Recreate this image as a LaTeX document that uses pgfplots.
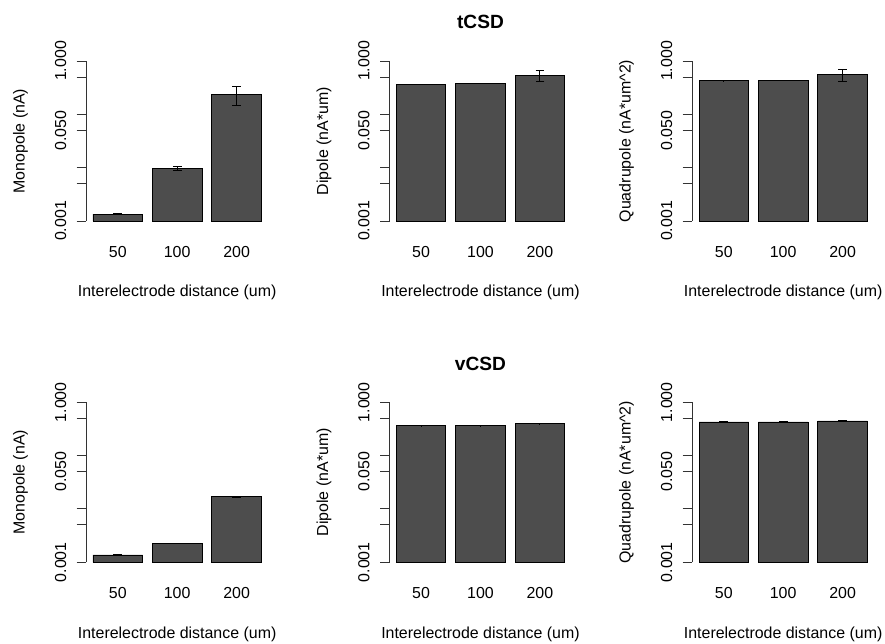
\documentclass[border=0pt]{standalone}
\usepackage{fontspec}
\setmainfont{Liberation Sans}
\usepackage{pgfplots}
\pgfplotsset{compat=1.18}
\definecolor{barfill}{HTML}{4D4D4D}
\pgfplotsset{
  every axis/.append style={
    scale only axis, width=136.35bp, height=120bp,
    xmin=0.064, xmax=3.736, ymin=0.001, ymax=1, log origin=infty,
    axis y line*=left, axis x line*=bottom,
    x axis line style={draw=none}, y axis line style={black!80, line width=0.75bp},
    xtick={0.7,1.9,3.1}, xticklabels={50,100,200},
    xtick style={draw=none},
    ytick={0.001,0.005,0.01,0.05,0.1,0.5,1},
    yticklabels={0.001,,,0.050,,,1.000},
    ytick style={black!80, line width=0.75bp},
    tick align=outside, major tick length=7.2bp,
    xticklabel style={anchor=base, inner sep=0pt, yshift=-19.9bp},
    yticklabel style={xshift=-8bp, rotate=90, anchor=base, inner sep=0pt},
    xlabel={Interelectrode distance (um)},
    xlabel style={at={(axis description cs:0.5,0)}, anchor=base, yshift=-56.8bp, inner sep=0pt},
    ylabel style={at={(axis description cs:-0.3388,0.5)}, anchor=base, inner sep=0pt},
    title style={at={(axis description cs:0.5,1)}, anchor=base, yshift=18.1bp, inner sep=0pt, font=\bfseries\fontsize{14.4}{17}\selectfont},
  },
}
\begin{document}
\fontsize{12}{14}\selectfont
\begin{tikzpicture}
\path[use as bounding box] (0,0) rectangle (663.75bp,-483bp);
% ---------- tCSD ----------
\begin{semilogyaxis}[at={(64.7bp,-165.75bp)}, anchor=south west, ylabel={Monopole (nA)}]
\addplot[ybar, bar width=1, fill=barfill, draw=black, line width=0.6bp,
  error bars/.cd, y dir=both, y explicit, error bar style={black, line width=0.75bp}, error mark options={rotate=90, black, mark size=3.3bp, line width=0.75bp}]
  coordinates {(0.7,0.00135) +- (0,0.00002) (1.9,0.0097) +- (0,0.0007) (3.1,0.238) +- (0,0.093)};
\end{semilogyaxis}
\begin{semilogyaxis}[at={(292.2bp,-165.75bp)}, anchor=south west, ylabel={Dipole (nA*um)}, title={tCSD}]
\addplot[ybar, bar width=1, fill=barfill, draw=black, line width=0.6bp,
  error bars/.cd, y dir=both, y explicit, error bar style={black, line width=0.75bp}, error mark options={rotate=90, black, mark size=3.3bp, line width=0.75bp}]
  coordinates {(0.7,0.367) +- (0,0.002) (1.9,0.383) +- (0,0.002) (3.1,0.535) +- (0,0.13)};
\end{semilogyaxis}
\begin{semilogyaxis}[at={(519.2bp,-165.75bp)}, anchor=south west, ylabel={Quadrupole (nA*um\textasciicircum 2)}]
\addplot[ybar, bar width=1, fill=barfill, draw=black, line width=0.6bp,
  error bars/.cd, y dir=both, y explicit, error bar style={black, line width=0.75bp}, error mark options={rotate=90, black, mark size=3.3bp, line width=0.75bp}]
  coordinates {(0.7,0.424) +- (0,0.002) (1.9,0.436) +- (0,0.002) (3.1,0.55) +- (0,0.135)};
\end{semilogyaxis}
% ---------- vCSD ----------
\begin{semilogyaxis}[at={(64.7bp,-421.7bp)}, anchor=south west, ylabel={Monopole (nA)}]
\addplot[ybar, bar width=1, fill=barfill, draw=black, line width=0.6bp,
  error bars/.cd, y dir=both, y explicit, error bar style={black, line width=0.75bp}, error mark options={rotate=90, black, mark size=3.3bp, line width=0.75bp}]
  coordinates {(0.7,0.00137) +- (0,0.00001) (1.9,0.00227) +- (0,0.00002) (3.1,0.0170) +- (0,0.0003)};
\end{semilogyaxis}
\begin{semilogyaxis}[at={(292.2bp,-421.7bp)}, anchor=south west, ylabel={Dipole (nA*um)}, title={vCSD}]
\addplot[ybar, bar width=1, fill=barfill, draw=black, line width=0.6bp,
  error bars/.cd, y dir=both, y explicit, error bar style={black, line width=0.75bp}, error mark options={rotate=90, black, mark size=3.3bp, line width=0.75bp}]
  coordinates {(0.7,0.366) +- (0,0.002) (1.9,0.362) +- (0,0.002) (3.1,0.40) +- (0,0.006)};
\end{semilogyaxis}
\begin{semilogyaxis}[at={(519.2bp,-421.7bp)}, anchor=south west, ylabel={Quadrupole (nA*um\textasciicircum 2)}]
\addplot[ybar, bar width=1, fill=barfill, draw=black, line width=0.6bp,
  error bars/.cd, y dir=both, y explicit, error bar style={black, line width=0.75bp}, error mark options={rotate=90, black, mark size=3.3bp, line width=0.75bp}]
  coordinates {(0.7,0.428) +- (0,0.002) (1.9,0.428) +- (0,0.002) (3.1,0.447) +- (0,0.006)};
\end{semilogyaxis}
\end{tikzpicture}
\end{document}
